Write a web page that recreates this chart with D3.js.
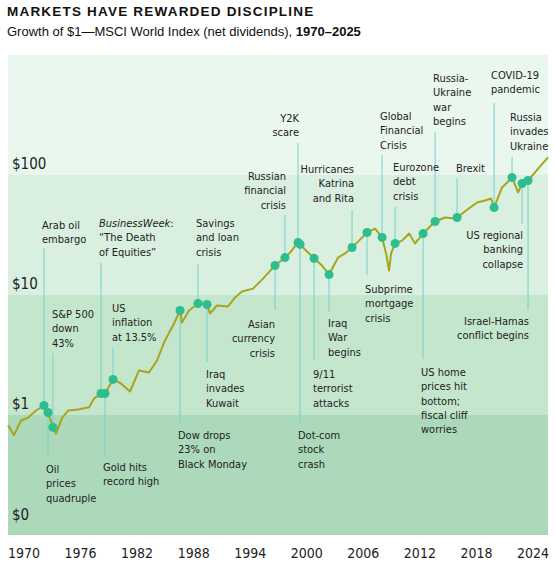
<!DOCTYPE html>
<html lang="en">
<head>
<meta charset="UTF-8" />
<title>Markets Have Rewarded Discipline</title>
<style>
  body { margin: 0; background: #fff; font-family: "Liberation Sans", Arial, sans-serif; }
  .lbl { font-family: "DejaVu Sans Condensed", sans-serif; font-size: 11px; fill: #222; }
  .tick { font-family: "DejaVu Sans Condensed", sans-serif; font-size: 14px; fill: #222; }
</style>
</head>
<body>
<svg id="chart" width="555" height="569"></svg>
<script src="https://cdnjs.cloudflare.com/ajax/libs/d3/7.8.4/d3.min.js"></script>
<script>
  // growth of $1
  const years = [1969.30, 1969.93, 1970.66, 1971.39, 1972.22, 1973.05, 1973.47, 1973.99, 1974.31, 1974.93,
    1975.56, 1976.60, 1977.75, 1978.27, 1979.00, 1979.41, 1980.25, 1981.08, 1982.02, 1982.96,
    1984.00, 1984.84, 1985.67, 1986.61, 1987.24, 1987.44, 1988.17, 1989.11, 1990.05, 1990.36,
    1991.09, 1992.24, 1992.97, 1993.70, 1994.85, 1995.89, 1997.14, 1998.18, 1998.71, 1999.54,
    1999.75, 2000.37, 2001.21, 2002.04, 2002.77, 2003.71, 2004.44, 2005.17, 2005.90, 2006.73,
    2007.57, 2008.30, 2008.72, 2009.03, 2009.24, 2009.66, 2010.39, 2011.12, 2011.74, 2012.58,
    2013.20, 2013.83, 2014.87, 2015.81, 2016.12, 2017.06, 2018.20, 2019.04, 2019.67, 2019.98,
    2020.81, 2021.85, 2022.48, 2022.90, 2023.52, 2024.67, 2025.60];
  const values = [0.82, 0.68, 0.90, 0.95, 1.09, 1.20, 1.05, 0.79, 0.70, 0.94,
    1.09, 1.11, 1.16, 1.37, 1.51, 1.51, 1.98, 1.83, 1.57, 2.35,
    2.26, 2.85, 4.18, 5.79, 7.43, 5.90, 7.43, 8.49, 8.33, 7.01,
    8.18, 8.02, 9.53, 10.7, 11.3, 13.7, 17.6, 20.5, 22.6, 27.4,
    26.4, 23.5, 20.2, 17.6, 14.8, 20.5, 22.2, 24.9, 28.4, 33.2,
    35.8, 30.2, 22.2, 16.0, 22.2, 26.9, 28.4, 32.5, 26.9, 32.5,
    36.5, 41.0, 44.2, 43.4, 44.2, 50.6, 59.0, 61.3, 63.7, 53.6,
    78.7, 95.3, 71.5, 84.9, 90.0, 115, 140];

  const xTicks = [1970, 1976, 1982, 1988, 1994, 2000, 2006, 2012, 2018, 2024];
  const yTicks = [0.1, 1, 10, 100];
  const yTickLabels = ["$0", "$1", "$10", "$100"];
  const bandColors = ["#acd9ba", "#c4e6cd", "#d9efe0", "#eaf7ee"];

  // events: text lines, index of the data point marked, label anchor / placement
  const events = [
    { lines: ["Arab oil", "embargo"], i: 5, tx: 42, ty: 229, anchor: "start", ly: 248 },
    { lines: ["S&P 500", "down", "43%"], i: 7, tx: 52, ty: 318, anchor: "start", ly: 353 },
    { lines: ["Oil", "prices", "quadruple"], i: 6, tx: 46, ty: 473, anchor: "start", ly: 458 },
    { lines: ["BusinessWeek:", "\u201cThe Death", "of Equities\u201d"], i: 14, tx: 99, ty: 227, anchor: "start", ly: 263, italic: true },
    { lines: ["Gold hits", "record high"], i: 15, tx: 103, ty: 471, anchor: "start", ly: 456 },
    { lines: ["US", "inflation", "at 13.5%"], i: 16, tx: 112, ty: 312, anchor: "start", ly: 348 },
    { lines: ["Dow drops", "23% on", "Black Monday"], i: 24, tx: 178, ty: 439, anchor: "start", ly: 423 },
    { lines: ["Savings", "and loan", "crisis"], i: 27, tx: 196, ty: 227, anchor: "start", ly: 264 },
    { lines: ["Iraq", "invades", "Kuwait"], i: 28, tx: 206, ty: 378, anchor: "start", ly: 362 },
    { lines: ["Asian", "currency", "crisis"], i: 36, tx: 275, ty: 328, anchor: "end", ly: 310 },
    { lines: ["Russian", "financial", "crisis"], i: 37, tx: 286, ty: 180, anchor: "end", ly: 215 },
    { lines: ["Y2K", "scare"], i: 39, tx: 299, ty: 122, anchor: "end", ly: 143 },
    { lines: ["Dot-com", "stock", "crash"], i: 40, tx: 298, ty: 439, anchor: "start", ly: 423 },
    { lines: ["9/11", "terrorist", "attacks"], i: 42, tx: 313, ty: 378, anchor: "start", ly: 360 },
    { lines: ["Iraq", "War", "begins"], i: 44, tx: 328, ty: 327, anchor: "start", ly: 312 },
    { lines: ["Hurricanes", "Katrina", "and Rita"], i: 47, tx: 354, ty: 173, anchor: "end", ly: 210 },
    { lines: ["Subprime", "mortgage", "crisis"], i: 49, tx: 365, ty: 293, anchor: "start", ly: 275 },
    { lines: ["Global", "Financial", "Crisis"], i: 51, tx: 380, ty: 120, anchor: "start", ly: 155 },
    { lines: ["Eurozone", "debt", "crisis"], i: 55, tx: 393, ty: 171, anchor: "start", ly: 207 },
    { lines: ["US home", "prices hit", "bottom;", "fiscal cliff", "worries"], i: 59, tx: 421, ty: 376, anchor: "start", ly: 359 },
    { lines: ["Russia-", "Ukraine", "war", "begins"], i: 61, tx: 433, ty: 82, anchor: "start", ly: 132 },
    { lines: ["Brexit"], i: 64, tx: 456, ty: 172, anchor: "start", ly: 178 },
    { lines: ["COVID-19", "pandemic"], i: 69, tx: 491, ty: 79, anchor: "start", ly: 103 },
    { lines: ["Russia", "invades", "Ukraine"], i: 71, tx: 510, ty: 121, anchor: "start", ly: 157 },
    { lines: ["US regional", "banking", "collapse"], i: 73, tx: 523, ty: 239, anchor: "end", ly: 224 },
    { lines: ["Israel-Hamas", "conflict begins"], i: 74, tx: 529, ty: 325, anchor: "end", ly: 310 }
  ];

  const svg = d3.select("#chart");
  const x = d3.scaleLinear().domain([1969.3, 2025.6]).range([8, 548]);
  const y = d3.scaleLog().domain([0.1, 1000]).range([535, 55]);
  const xLabel = d3.scaleLinear().domain([1970, 2024]).range([24, 533]);

  // title
  svg.append("text").attr("x", 7).attr("y", 16)
    .style("font-size", "13.5px").style("font-weight", "bold").style("letter-spacing", "1.2px")
    .attr("fill", "#111").text("MARKETS HAVE REWARDED DISCIPLINE");
  const sub = svg.append("text").attr("x", 7).attr("y", 36).style("font-size", "13px").attr("fill", "#111");
  sub.append("tspan").text("Growth of $1\u2014MSCI World Index (net dividends), ");
  sub.append("tspan").style("font-weight", "bold").text("1970\u20132025");

  // decade bands
  svg.append("g").selectAll("rect").data(yTicks).enter().append("rect")
    .attr("x", 8).attr("width", 540)
    .attr("y", d => y(d * 10)).attr("height", d => y(d) - y(d * 10))
    .attr("fill", (d, i) => bandColors[i]);

  svg.append("g").selectAll("text").data(yTicks).enter().append("text")
    .attr("class", "tick").attr("x", 12).style("font-size", "15px")
    .attr("y", (d, i) => i === 0 ? y(d) - 15 : y(d) - 6)
    .text((d, i) => yTickLabels[i]);

  svg.append("g").selectAll("text").data(xTicks).enter().append("text")
    .attr("class", "tick").attr("text-anchor", "middle")
    .attr("x", d => xLabel(d)).attr("y", 558).text(d => d);

  const data = years.map((yr, i) => ({ yr, v: values[i] }));

  // leader lines
  svg.append("g").selectAll("line").data(events).enter().append("line")
    .attr("x1", d => x(years[d.i])).attr("x2", d => x(years[d.i]))
    .attr("y1", d => y(values[d.i])).attr("y2", d => d.ly)
    .attr("stroke", "#74d1cc").attr("stroke-width", 1);

  // index line
  svg.append("path").datum(data)
    .attr("d", d3.line().x(d => x(d.yr)).y(d => y(d.v)))
    .attr("fill", "none").attr("stroke", "#a6a51b").attr("stroke-width", 2).attr("stroke-linejoin", "round");

  // event dots
  svg.append("g").selectAll("circle").data(events).enter().append("circle")
    .attr("cx", d => x(years[d.i])).attr("cy", d => y(values[d.i])).attr("r", 4.5)
    .attr("fill", "#2dbe8f");

  // event labels
  const lbl = svg.append("g").selectAll("text").data(events).enter().append("text")
    .attr("class", "lbl").attr("text-anchor", d => d.anchor);
  lbl.each(function(d) {
    const t = d3.select(this);
    d.lines.forEach((s, k) => {
      const ts = t.append("tspan").attr("x", d.tx).attr("y", d.ty + k * 14.3);
      if (d.italic && k === 0) {
        ts.append("tspan").style("font-style", "italic").text("BusinessWeek");
        ts.append("tspan").text(":");
      } else {
        ts.text(s);
      }
    });
  });
</script>
</body>
</html>
